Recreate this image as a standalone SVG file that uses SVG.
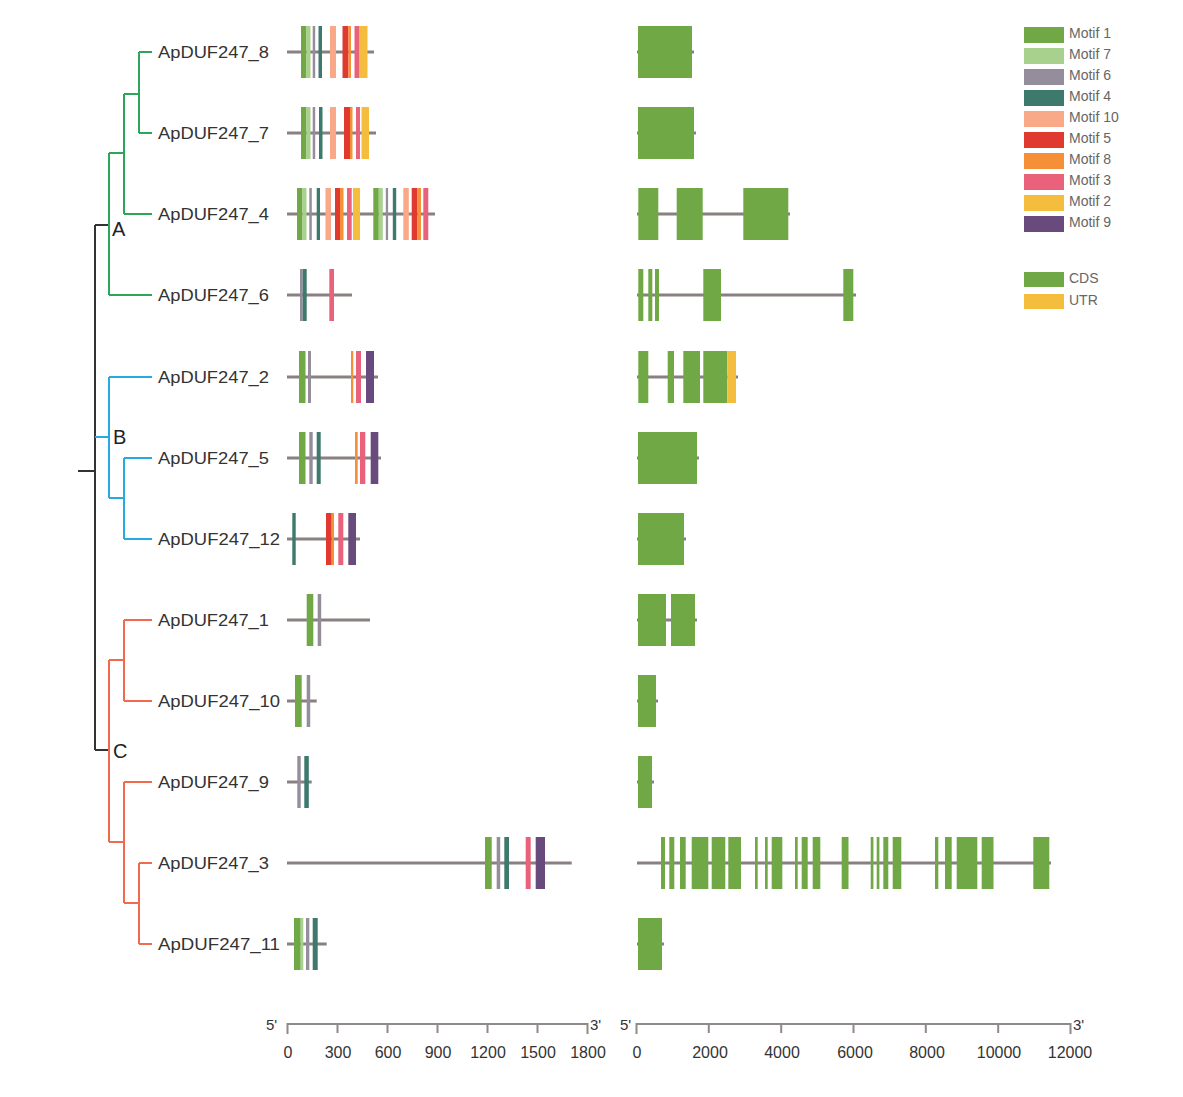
<svg xmlns="http://www.w3.org/2000/svg" width="1183" height="1097" viewBox="0 0 1183 1097">
<style>
.bg{fill:#ffffff}
.lbl{font-family:"Liberation Sans",Arial,sans-serif;font-size:17px;fill:#333333}
.clade{font-family:"Liberation Sans",Arial,sans-serif;font-size:20px;fill:#222222}
.leg{font-family:"Liberation Sans",Arial,sans-serif;font-size:14px;fill:#666666}
.tick{font-family:"Liberation Sans",Arial,sans-serif;font-size:16px;fill:#333333;text-anchor:middle}
.end{font-family:"Liberation Sans",Arial,sans-serif;font-size:15px;fill:#333333}
.ln{stroke:#8a8080;stroke-width:3;fill:none}
.ax{stroke:#8f8a8a;stroke-width:2;fill:none}
.tk{stroke:#8f8a8a;stroke-width:2;fill:none}
.tb{stroke:#333333;stroke-width:2;fill:none}
.tg{stroke:#2ea65a;stroke-width:2;fill:none}
.tbl{stroke:#27aae1;stroke-width:2;fill:none}
.to{stroke:#f06a4b;stroke-width:2;fill:none}
.m1{fill:#70a845}.m7{fill:#a9d18e}.m6{fill:#958c9c}.m4{fill:#3d7a6d}.m10{fill:#f9a888}
.m5{fill:#e0392f}.m8{fill:#f58f38}.m3{fill:#e9617b}.m2{fill:#f4bd3e}.m9{fill:#694a7c}
.cds{fill:#70a845}.utr{fill:#f4bd3e}
</style>
<rect class="bg" x="0" y="0" width="1183" height="1097"/>

<g id="connectors">
<path class="tb" d="M78,471 H95 M95,225 V750 M95,225 H109 M95,750 H109"/>
<path class="tg" d="M109,153 V295 M109,153 H124 M109,295 H152 M124,94 V214 M124,214 H152 M124,94 H139 M139,52 V133 M139,52 H152 M139,133 H152"/>
<path class="tbl" d="M95,437 H109 M109,377 V498 M109,377 H152 M109,498 H124 M124,458 V539 M124,458 H152 M124,539 H152"/>
<path class="to" d="M109,660 V842 M109,660 H124 M124,620 V701 M124,620 H152 M124,701 H152 M109,842 H124 M124,782 V903 M124,782 H152 M124,903 H139 M139,863 V944 M139,863 H152 M139,944 H152"/>
</g>

<g id="clade-labels">
<text class="clade" x="112" y="236">A</text>
<text class="clade" x="113" y="444">B</text>
<text class="clade" x="113" y="758">C</text>
</g>

<g id="gene-ApDUF247_8">
<text class="lbl" x="158" y="58" textLength="111" lengthAdjust="spacingAndGlyphs">ApDUF247_8</text>
<line class="ln" x1="287" y1="52" x2="374" y2="52"/>
<rect class="m1" x="301" y="26" width="5.5" height="52"/><rect class="m7" x="306.5" y="26" width="4" height="52"/><rect class="m6" x="312.7" y="26" width="2.5" height="52"/><rect class="m4" x="318.5" y="26" width="3.5" height="52"/><rect class="m10" x="330" y="26" width="6" height="52"/><rect class="m5" x="342.5" y="26" width="6" height="52"/><rect class="m8" x="348.5" y="26" width="2.5" height="52"/><rect class="m3" x="354.5" y="26" width="4.5" height="52"/><rect class="m2" x="359" y="26" width="8.5" height="52"/>
<line class="ln" x1="637" y1="52" x2="694" y2="52"/>
<rect class="cds" x="638" y="26" width="54" height="52"/>
</g>

<g id="gene-ApDUF247_7">
<text class="lbl" x="158" y="139" textLength="111" lengthAdjust="spacingAndGlyphs">ApDUF247_7</text>
<line class="ln" x1="287" y1="133" x2="376" y2="133"/>
<rect class="m1" x="301" y="107" width="5.5" height="52"/><rect class="m7" x="306.5" y="107" width="4" height="52"/><rect class="m6" x="312.7" y="107" width="2.5" height="52"/><rect class="m4" x="319" y="107" width="3.5" height="52"/><rect class="m10" x="330" y="107" width="6" height="52"/><rect class="m5" x="344" y="107" width="6" height="52"/><rect class="m8" x="350" y="107" width="2.5" height="52"/><rect class="m3" x="356" y="107" width="4" height="52"/><rect class="m2" x="361.5" y="107" width="7.5" height="52"/>
<line class="ln" x1="637" y1="133" x2="696" y2="133"/>
<rect class="cds" x="638" y="107" width="56" height="52"/>
</g>

<g id="gene-ApDUF247_4">
<text class="lbl" x="158" y="220" textLength="111" lengthAdjust="spacingAndGlyphs">ApDUF247_4</text>
<line class="ln" x1="287" y1="214" x2="435" y2="214"/>
<rect class="m1" x="297" y="188" width="5.5" height="52"/><rect class="m7" x="302.5" y="188" width="4" height="52"/><rect class="m6" x="309.3" y="188" width="2.5" height="52"/><rect class="m4" x="316.7" y="188" width="3.3" height="52"/><rect class="m10" x="325.5" y="188" width="5.5" height="52"/><rect class="m5" x="335" y="188" width="5" height="52"/><rect class="m8" x="340" y="188" width="3.5" height="52"/><rect class="m3" x="347" y="188" width="4.7" height="52"/><rect class="m2" x="353" y="188" width="7" height="52"/>
<rect class="m1" x="373.3" y="188" width="5.5" height="52"/><rect class="m7" x="378.8" y="188" width="4" height="52"/><rect class="m6" x="385.8" y="188" width="2.3" height="52"/><rect class="m4" x="392.8" y="188" width="3.4" height="52"/><rect class="m10" x="403.3" y="188" width="5.5" height="52"/><rect class="m5" x="411.7" y="188" width="5.8" height="52"/><rect class="m8" x="417.5" y="188" width="3.5" height="52"/><rect class="m3" x="423.3" y="188" width="5" height="52"/>
<line class="ln" x1="637" y1="214" x2="790" y2="214"/>
<rect class="cds" x="638.3" y="188" width="20" height="52"/><rect class="cds" x="676.7" y="188" width="26" height="52"/><rect class="cds" x="743.3" y="188" width="45" height="52"/>
</g>

<g id="gene-ApDUF247_6">
<text class="lbl" x="158" y="301" textLength="111" lengthAdjust="spacingAndGlyphs">ApDUF247_6</text>
<line class="ln" x1="287" y1="295" x2="352" y2="295"/>
<rect class="m6" x="300" y="269" width="2.7" height="52"/><rect class="m4" x="302.7" y="269" width="4" height="52"/><rect class="m3" x="329.3" y="269" width="4.7" height="52"/>
<line class="ln" x1="637" y1="295" x2="856" y2="295"/>
<rect class="cds" x="638.3" y="269" width="5" height="52"/><rect class="cds" x="648.3" y="269" width="4" height="52"/><rect class="cds" x="655" y="269" width="4" height="52"/><rect class="cds" x="703.3" y="269" width="17.7" height="52"/><rect class="cds" x="843.3" y="269" width="10" height="52"/>
</g>

<g id="gene-ApDUF247_2">
<text class="lbl" x="158" y="383" textLength="111" lengthAdjust="spacingAndGlyphs">ApDUF247_2</text>
<line class="ln" x1="287" y1="377" x2="378" y2="377"/>
<rect class="m1" x="299" y="351" width="6.5" height="52"/><rect class="m6" x="308" y="351" width="3" height="52"/><rect class="m8" x="351" y="351" width="2.3" height="52"/><rect class="m3" x="356" y="351" width="5" height="52"/><rect class="m9" x="366" y="351" width="8" height="52"/>
<line class="ln" x1="637" y1="377" x2="738" y2="377"/>
<rect class="cds" x="638.3" y="351" width="10" height="52"/><rect class="cds" x="667.7" y="351" width="6.3" height="52"/><rect class="cds" x="683.3" y="351" width="16.7" height="52"/><rect class="cds" x="703.3" y="351" width="24" height="52"/><rect class="utr" x="727.3" y="351" width="8.7" height="52"/>
</g>

<g id="gene-ApDUF247_5">
<text class="lbl" x="158" y="464" textLength="111" lengthAdjust="spacingAndGlyphs">ApDUF247_5</text>
<line class="ln" x1="287" y1="458" x2="381" y2="458"/>
<rect class="m1" x="299" y="432" width="6.5" height="52"/><rect class="m6" x="309.3" y="432" width="3.4" height="52"/><rect class="m4" x="316.7" y="432" width="4" height="52"/><rect class="m8" x="355" y="432" width="2.7" height="52"/><rect class="m3" x="360" y="432" width="5.3" height="52"/><rect class="m9" x="370.7" y="432" width="7.6" height="52"/>
<line class="ln" x1="637" y1="458" x2="699" y2="458"/>
<rect class="cds" x="638" y="432" width="59" height="52"/>
</g>

<g id="gene-ApDUF247_12">
<text class="lbl" x="158" y="545" textLength="122" lengthAdjust="spacingAndGlyphs">ApDUF247_12</text>
<line class="ln" x1="287" y1="539" x2="360" y2="539"/>
<rect class="m4" x="292.3" y="513" width="3.4" height="52"/><rect class="m5" x="326" y="513" width="5.7" height="52"/><rect class="m8" x="331.7" y="513" width="2.3" height="52"/><rect class="m3" x="338.3" y="513" width="5" height="52"/><rect class="m9" x="348.3" y="513" width="7.7" height="52"/>
<line class="ln" x1="637" y1="539" x2="686" y2="539"/>
<rect class="cds" x="638" y="513" width="46" height="52"/>
</g>

<g id="gene-ApDUF247_1">
<text class="lbl" x="158" y="626" textLength="111" lengthAdjust="spacingAndGlyphs">ApDUF247_1</text>
<line class="ln" x1="287" y1="620" x2="370" y2="620"/>
<rect class="m1" x="306.7" y="594" width="6.6" height="52"/><rect class="m6" x="317.7" y="594" width="3.5" height="52"/>
<line class="ln" x1="637" y1="620" x2="697" y2="620"/>
<rect class="cds" x="638" y="594" width="28" height="52"/><rect class="cds" x="671" y="594" width="24" height="52"/>
</g>

<g id="gene-ApDUF247_10">
<text class="lbl" x="158" y="707" textLength="122" lengthAdjust="spacingAndGlyphs">ApDUF247_10</text>
<line class="ln" x1="287" y1="701" x2="316.7" y2="701"/>
<rect class="m1" x="295" y="675" width="6.7" height="52"/><rect class="m6" x="306.7" y="675" width="3.5" height="52"/>
<line class="ln" x1="637" y1="701" x2="658" y2="701"/>
<rect class="cds" x="638" y="675" width="18" height="52"/>
</g>

<g id="gene-ApDUF247_9">
<text class="lbl" x="158" y="788" textLength="111" lengthAdjust="spacingAndGlyphs">ApDUF247_9</text>
<line class="ln" x1="287" y1="782" x2="311.7" y2="782"/>
<rect class="m6" x="297.3" y="756" width="3.4" height="52"/><rect class="m4" x="304.3" y="756" width="4.5" height="52"/>
<line class="ln" x1="637" y1="782" x2="654" y2="782"/>
<rect class="cds" x="638" y="756" width="14" height="52"/>
</g>

<g id="gene-ApDUF247_3">
<text class="lbl" x="158" y="869" textLength="111" lengthAdjust="spacingAndGlyphs">ApDUF247_3</text>
<line class="ln" x1="287" y1="863" x2="571.7" y2="863"/>
<rect class="m1" x="485" y="837" width="6.7" height="52"/><rect class="m6" x="496.7" y="837" width="3.5" height="52"/><rect class="m4" x="504.3" y="837" width="4.7" height="52"/><rect class="m3" x="525.7" y="837" width="5" height="52"/><rect class="m9" x="535.7" y="837" width="9.3" height="52"/>
<line class="ln" x1="637" y1="863" x2="1051" y2="863"/>
<rect class="cds" x="661" y="837" width="4" height="52"/><rect class="cds" x="669.3" y="837" width="5" height="52"/><rect class="cds" x="680" y="837" width="5.7" height="52"/><rect class="cds" x="691.7" y="837" width="16.6" height="52"/><rect class="cds" x="711.7" y="837" width="13.6" height="52"/><rect class="cds" x="728.3" y="837" width="12.7" height="52"/><rect class="cds" x="755" y="837" width="2.7" height="52"/><rect class="cds" x="765" y="837" width="2.7" height="52"/><rect class="cds" x="771.7" y="837" width="10.6" height="52"/><rect class="cds" x="795" y="837" width="2.7" height="52"/><rect class="cds" x="801.7" y="837" width="6" height="52"/><rect class="cds" x="812.7" y="837" width="7.6" height="52"/><rect class="cds" x="841.7" y="837" width="6.8" height="52"/><rect class="cds" x="870.7" y="837" width="2.7" height="52"/><rect class="cds" x="876.7" y="837" width="2.7" height="52"/><rect class="cds" x="883.3" y="837" width="5" height="52"/><rect class="cds" x="892.7" y="837" width="8.6" height="52"/><rect class="cds" x="935" y="837" width="3.3" height="52"/><rect class="cds" x="945" y="837" width="6.7" height="52"/><rect class="cds" x="956.7" y="837" width="20.6" height="52"/><rect class="cds" x="981.7" y="837" width="11.8" height="52"/><rect class="cds" x="1033.3" y="837" width="16" height="52"/>
</g>

<g id="gene-ApDUF247_11">
<text class="lbl" x="158" y="950" textLength="122" lengthAdjust="spacingAndGlyphs">ApDUF247_11</text>
<line class="ln" x1="287" y1="944" x2="326.7" y2="944"/>
<rect class="m1" x="294" y="918" width="6.7" height="52"/><rect class="m7" x="300.7" y="918" width="2.6" height="52"/><rect class="m6" x="306" y="918" width="3.3" height="52"/><rect class="m4" x="312.7" y="918" width="5" height="52"/>
<line class="ln" x1="637" y1="944" x2="664" y2="944"/>
<rect class="cds" x="638" y="918" width="24" height="52"/>
</g>

<g id="legend">
<rect class="m1" x="1024" y="27" width="40" height="16"/><text class="leg" x="1069" y="38">Motif 1</text>
<rect class="m7" x="1024" y="48" width="40" height="16"/><text class="leg" x="1069" y="59">Motif 7</text>
<rect class="m6" x="1024" y="69" width="40" height="16"/><text class="leg" x="1069" y="80">Motif 6</text>
<rect class="m4" x="1024" y="90" width="40" height="16"/><text class="leg" x="1069" y="101">Motif 4</text>
<rect class="m10" x="1024" y="111" width="40" height="16"/><text class="leg" x="1069" y="122">Motif 10</text>
<rect class="m5" x="1024" y="132" width="40" height="16"/><text class="leg" x="1069" y="143">Motif 5</text>
<rect class="m8" x="1024" y="153" width="40" height="16"/><text class="leg" x="1069" y="164">Motif 8</text>
<rect class="m3" x="1024" y="174" width="40" height="16"/><text class="leg" x="1069" y="185">Motif 3</text>
<rect class="m2" x="1024" y="195" width="40" height="16"/><text class="leg" x="1069" y="206">Motif 2</text>
<rect class="m9" x="1024" y="216" width="40" height="16"/><text class="leg" x="1069" y="227">Motif 9</text>
<rect class="cds" x="1024" y="272" width="40" height="15"/><text class="leg" x="1069" y="283">CDS</text>
<rect class="utr" x="1024" y="294" width="40" height="15"/><text class="leg" x="1069" y="305">UTR</text>
</g>

<g id="motif-axis">
<line class="ax" x1="287.5" y1="1024" x2="587.5" y2="1024"/>
<path class="tk" d="M287.5,1023 V1034 M337.5,1024 V1033 M387.5,1024 V1033 M437.5,1024 V1033 M487.5,1024 V1033 M537.5,1024 V1033 M587.5,1023 V1034"/>
<text class="end" x="266" y="1030">5'</text>
<text class="end" x="590" y="1030">3'</text>
<text class="tick" x="288" y="1058">0</text>
<text class="tick" x="338" y="1058">300</text>
<text class="tick" x="388" y="1058">600</text>
<text class="tick" x="438" y="1058">900</text>
<text class="tick" x="488" y="1058">1200</text>
<text class="tick" x="538" y="1058">1500</text>
<text class="tick" x="588" y="1058">1800</text>
</g>

<g id="gene-axis">
<line class="ax" x1="636.5" y1="1024" x2="1070.5" y2="1024"/>
<path class="tk" d="M636.5,1023 V1034 M708.8,1024 V1033 M781.2,1024 V1033 M853.5,1024 V1033 M925.8,1024 V1033 M998.2,1024 V1033 M1070.5,1023 V1034"/>
<text class="end" x="620" y="1030">5'</text>
<text class="end" x="1073" y="1030">3'</text>
<text class="tick" x="637" y="1058">0</text>
<text class="tick" x="710" y="1058">2000</text>
<text class="tick" x="782" y="1058">4000</text>
<text class="tick" x="855" y="1058">6000</text>
<text class="tick" x="927" y="1058">8000</text>
<text class="tick" x="999" y="1058">10000</text>
<text class="tick" x="1070" y="1058">12000</text>
</g>
</svg>
